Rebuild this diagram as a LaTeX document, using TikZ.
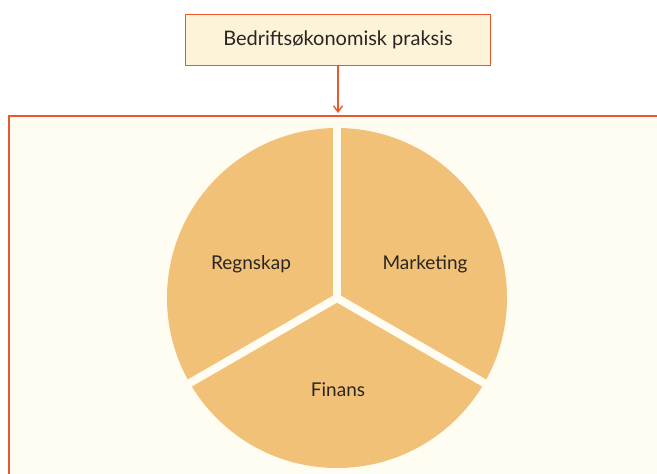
\documentclass[tikz,border=0pt]{standalone}
\usepackage{fontspec}
\setmainfont{Lato}
\usetikzlibrary{arrows.meta}
\definecolor{frame}{HTML}{E9582C}
\definecolor{boxfill}{HTML}{FCF3D8}
\definecolor{panelfill}{HTML}{FFFCF2}
\definecolor{piefill}{HTML}{F2C178}
\definecolor{txt}{HTML}{2A2522}
\tikzset{
  titlebox/.style={draw=frame, line width=1.2pt, fill=boxfill, minimum width=305pt, minimum height=51pt, inner sep=0pt, font=\fontsize{20}{24}\selectfont, text=txt},
  label/.style={font=\fontsize{19}{23}\selectfont, text=txt},
  gap/.style={draw=panelfill, line width=8pt},
}
\begin{document}
\begin{tikzpicture}[x=1pt,y=-1pt]
\useasboundingbox (0,0) rectangle (657,474);
\fill[white] (0,0) rectangle (657,474);
\begin{scope}
\clip (0,0) rectangle (657,474);
\draw[frame, line width=1.2pt, fill=panelfill] (9,116) rectangle (680,500);
\end{scope}
\node[titlebox] (title) at (338,40) {Bedriftsøkonomisk praksis};
\coordinate (panel) at (338,113);
\draw[frame, line width=1.4pt, -{Straight Barb[length=6pt,width=9pt]}] (title.south) -- (panel);
\coordinate (c) at (337,298);
\fill[piefill] (c) circle[radius=170];
\draw[gap] (c) -- ++(0,-175);
\draw[gap] (c) -- ++(-210:175);
\draw[gap] (c) -- ++(30:175);
\node[label] (regn) at (251,264) {Regnskap};
\node[label] (mark) at (425,264) {Marketing};
\node[label] (fin) at (338,390) {Finans};
\end{tikzpicture}
\end{document}
